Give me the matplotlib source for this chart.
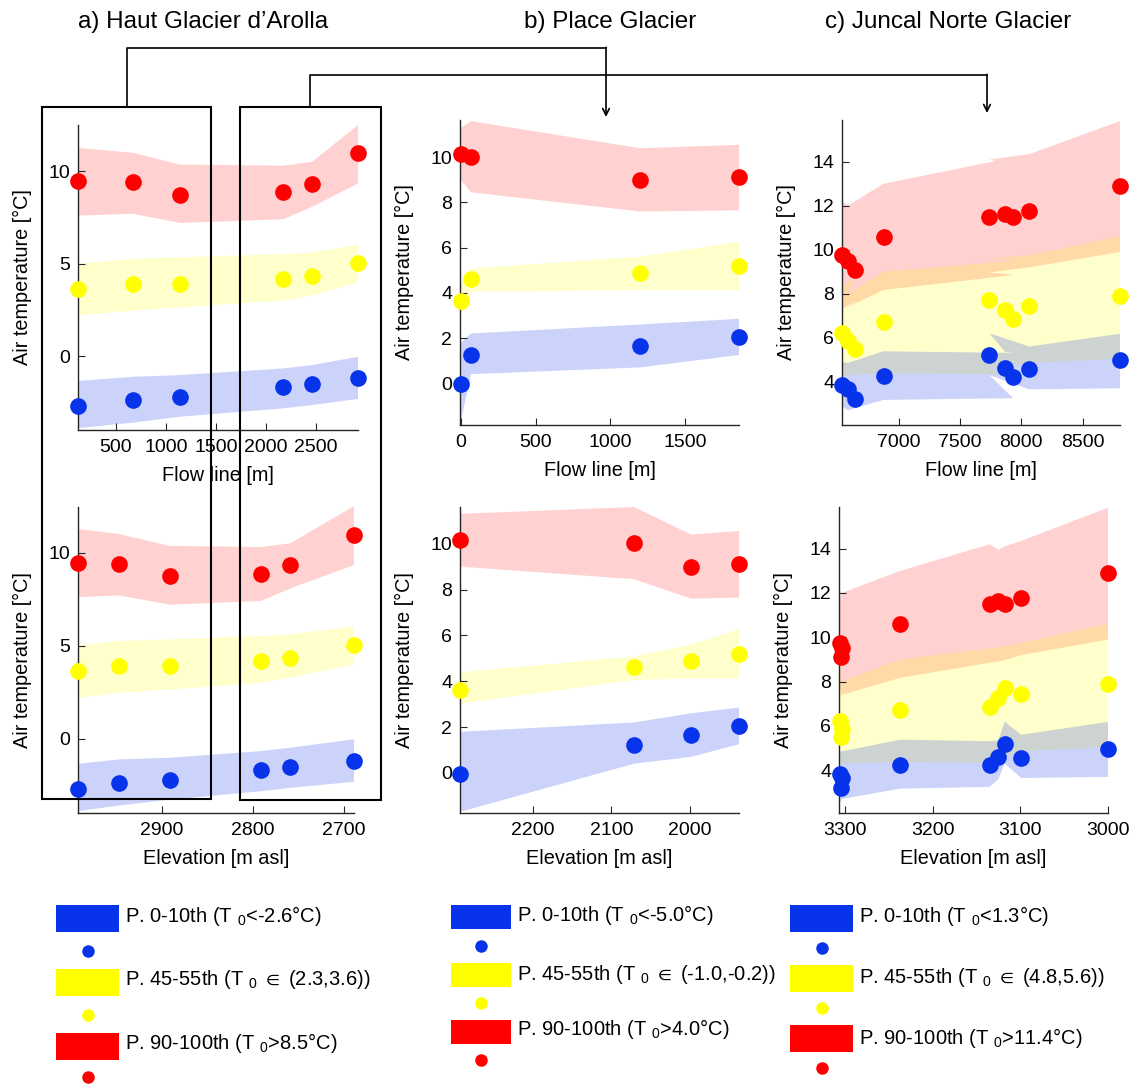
import matplotlib
matplotlib.use('Agg')
import matplotlib.pyplot as plt
from matplotlib.patches import Rectangle
import numpy as np

# ---------------- data ----------------
# a) Haut Glacier d'Arolla
a_flow = [120, 670, 1140, 2170, 2460, 2920]
a_elev = [2992, 2947, 2891, 2791, 2759, 2689]
a_red = [9.46, 9.40, 8.74, 8.86, 9.33, 10.96]
a_yel = [3.63, 3.88, 3.92, 4.17, 4.35, 5.02]
a_blu = [-2.69, -2.38, -2.20, -1.69, -1.53, -1.21]
a_red_hi = [11.26, 11.00, 10.36, 10.30, 10.50, 12.50]
a_red_lo = [7.60, 7.70, 7.20, 7.40, 8.07, 9.33]
a_yel_hi = [5.00, 5.25, 5.34, 5.52, 5.60, 6.03]
a_yel_lo = [2.19, 2.46, 2.64, 3.00, 3.27, 3.99]
a_blu_hi = [-1.35, -1.12, -1.03, -0.67, -0.49, -0.04]
a_blu_lo = [-3.90, -3.60, -3.28, -2.83, -2.65, -2.32]

# b) Place Glacier
b_flow = [0, 68, 1200, 1860]
b_elev = [2293, 2071, 1998, 1937]
b_red = [10.15, 10.02, 9.00, 9.12]
b_yel = [3.63, 4.60, 4.89, 5.18]
b_blu = [-0.05, 1.23, 1.65, 2.03]
b_red_hi = [11.30, 11.60, 10.40, 10.55]
b_red_lo = [9.00, 8.45, 7.60, 7.65]
b_yel_hi = [4.39, 5.08, 5.60, 6.27]
b_yel_lo = [3.03, 4.05, 4.12, 4.12]
b_blu_hi = [1.79, 2.20, 2.60, 2.85]
b_blu_lo = [-1.70, 0.40, 0.70, 1.25]

# c) Juncal Norte Glacier (stations ordered by elevation)
c_flow = [6540, 6648, 6586, 6878, 7935, 7868, 7740, 8065, 8803]
c_elev = [3306, 3305, 3304, 3237, 3135, 3125, 3118, 3099, 3000]
c_red = [9.75, 9.10, 9.50, 10.60, 11.50, 11.62, 11.50, 11.77, 12.92]
c_yel = [6.22, 5.50, 5.85, 6.70, 6.85, 7.25, 7.73, 7.42, 7.90]
c_blu = [3.85, 3.20, 3.65, 4.25, 4.23, 4.60, 5.20, 4.57, 4.97]
c_red_hi = [12.20, 11.80, 12.00, 13.00, 14.20, 13.95, 14.10, 14.35, 15.85]
c_red_lo = [7.30, 7.65, 7.40, 8.17, 8.85, 8.90, 8.97, 9.20, 9.90]
c_yel_hi = [8.30, 8.75, 8.00, 9.00, 9.50, 9.55, 9.60, 9.75, 10.62]
c_yel_lo = [4.25, 4.35, 4.30, 4.38, 4.33, 4.40, 4.60, 4.85, 5.05]
c_blu_hi = [4.90, 4.80, 4.85, 5.38, 5.31, 5.35, 6.20, 5.60, 6.18]
c_blu_lo = [2.87, 2.50, 2.70, 3.17, 3.25, 3.60, 4.30, 3.65, 3.70]

titles = ["a) Haut Glacier d\u2019Arolla", "b) Place Glacier", "c) Juncal Norte Glacier"]

legend_a = [r"P. 0-10th (T $_0$<-2.6°C)", r"P. 45-55th (T $_0$ $\in$ (2.3,3.6))",
            r"P. 90-100th (T $_0$>8.5°C)"]
legend_b = [r"P. 0-10th (T $_0$<-5.0°C)", r"P. 45-55th (T $_0$ $\in$ (-1.0,-0.2))",
            r"P. 90-100th (T $_0$>4.0°C)"]
legend_c = [r"P. 0-10th (T $_0$<1.3°C)", r"P. 45-55th (T $_0$ $\in$ (4.8,5.6))",
            r"P. 90-100th (T $_0$>11.4°C)"]

# ---------------- style ----------------
plt.rcParams['font.family'] = ['Liberation Sans', 'DejaVu Sans']
plt.rcParams['mathtext.fontset'] = 'custom'
plt.rcParams['mathtext.rm'] = 'Liberation Sans'
plt.rcParams['mathtext.it'] = 'Liberation Sans:italic'
plt.rcParams['mathtext.bf'] = 'Liberation Sans:bold'
plt.rcParams['mathtext.default'] = 'rm'
plt.rcParams['mathtext.fallback'] = 'stixsans'

W, H = 1132, 1084
RED, YEL, BLU = '#ff0000', '#ffff00', '#0733ea'
BAND_RED, BAND_YEL, BAND_BLU = (1, 0, 0), (1, 1, 0), (0.0, 0.15, 0.9)


def px_axes(fig, l, t, r, b):
    """Axes placed by pixel box (origin top-left)."""
    return fig.add_axes([l / W, 1 - b / H, (r - l) / W, (b - t) / H])


def draw_panel(ax, x, pts, bands, xlim, ylim, xticks, yticks, xlabel, box):
    x = np.asarray(x, float)
    colors = [(BAND_RED, 0.18), (BAND_YEL, 0.20), (BAND_BLU, 0.20)]
    for (hi, lo), (col, a) in zip(bands, colors):
        ax.fill(np.r_[x, x[::-1]], np.r_[hi, np.asarray(lo)[::-1]],
                color=col, alpha=a, lw=0, zorder=1)
    for vals, col in zip(pts, [RED, YEL, BLU]):
        ax.plot(x, vals, 'o', ms=12, color=col, mec='none',
                clip_on=False, zorder=3)
    ax.set_xlim(*xlim)
    ax.set_ylim(*ylim)
    ax.set_xticks(xticks)
    ax.set_yticks(yticks)
    for s in ['top', 'right']:
        ax.spines[s].set_visible(False)
    for s in ['left', 'bottom']:
        ax.spines[s].set_color('#262626')
        ax.spines[s].set_linewidth(1.0)
    ax.patch.set_alpha(0)
    ax.tick_params(direction='in', length=5, width=0.8, labelsize=14,
                   colors='#262626', labelcolor='black')
    ax.tick_params(axis='x', pad=6.5)
    ax.tick_params(axis='y', pad=5.5)
    l, t, r, b = box
    ax.set_xlabel(xlabel, fontsize=14.3)
    ax.set_ylabel('Air temperature [°C]', fontsize=14.3)
    ax.xaxis.set_label_coords(0.5, -36 / (b - t))
    ax.yaxis.set_label_coords(-46 / (r - l), 0.5)


def main():
    fig = plt.figure(figsize=(W / 100, H / 100), dpi=100)

    boxes = {
        'a_top': (78, 125, 358, 430), 'a_bot': (78, 507, 354, 813),
        'b_top': (460, 120, 739, 425), 'b_bot': (460, 507, 739, 813),
        'c_top': (842, 120, 1120, 425), 'c_bot': (839, 507, 1108, 813),
    }

    a_pts = [a_red, a_yel, a_blu]
    a_bands = [(a_red_hi, a_red_lo), (a_yel_hi, a_yel_lo), (a_blu_hi, a_blu_lo)]
    b_pts = [b_red, b_yel, b_blu]
    b_bands = [(b_red_hi, b_red_lo), (b_yel_hi, b_yel_lo), (b_blu_hi, b_blu_lo)]
    c_pts = [c_red, c_yel, c_blu]
    c_bands = [(c_red_hi, c_red_lo), (c_yel_hi, c_yel_lo), (c_blu_hi, c_blu_lo)]

    ax = px_axes(fig, *boxes['a_top'])
    draw_panel(ax, a_flow, a_pts, a_bands, (120, 2920), (-4, 12.5),
               [500, 1000, 1500, 2000, 2500], [0, 5, 10], 'Flow line [m]', boxes['a_top'])
    ax = px_axes(fig, *boxes['a_bot'])
    draw_panel(ax, a_elev, a_pts, a_bands, (2992, 2689), (-4, 12.45),
               [2900, 2800, 2700], [0, 5, 10], 'Elevation [m asl]', boxes['a_bot'])

    ax = px_axes(fig, *boxes['b_top'])
    draw_panel(ax, b_flow, b_pts, b_bands, (-5, 1860), (-1.85, 11.65),
               [0, 500, 1000, 1500], [0, 2, 4, 6, 8, 10], 'Flow line [m]', boxes['b_top'])
    ax = px_axes(fig, *boxes['b_bot'])
    draw_panel(ax, b_elev, b_pts, b_bands, (2293, 1937), (-1.75, 11.6),
               [2200, 2100, 2000], [0, 2, 4, 6, 8, 10], 'Elevation [m asl]', boxes['b_bot'])

    ax = px_axes(fig, *boxes['c_top'])
    draw_panel(ax, c_flow, c_pts, c_bands, (6540, 8803), (2.03, 15.9),
               [7000, 7500, 8000, 8500], [4, 6, 8, 10, 12, 14], 'Flow line [m]', boxes['c_top'])
    ax = px_axes(fig, *boxes['c_bot'])
    draw_panel(ax, c_elev, c_pts, c_bands, (3307, 3000), (2.07, 15.88),
               [3300, 3200, 3100, 3000], [4, 6, 8, 10, 12, 14], 'Elevation [m asl]', boxes['c_bot'])

    # overlay in pixel coordinates: titles, boxes, connectors, legends
    ov = fig.add_axes([0, 0, 1, 1], zorder=10)
    ov.set_xlim(0, W)
    ov.set_ylim(H, 0)
    ov.axis('off')
    ov.patch.set_alpha(0)

    for tx, title in zip([203, 610, 948], titles):
        ov.text(tx, 22, title, fontsize=17.5, ha='center', va='center')

    ov.add_patch(Rectangle((42, 107), 169, 692, fill=False, lw=1.5, ec='k'))
    ov.add_patch(Rectangle((240, 107), 141, 693, fill=False, lw=1.5, ec='k'))

    ov.plot([127, 127, 606], [107, 48, 48], color='k', lw=1.2)
    ov.annotate('', xy=(606, 117), xytext=(606, 47.4),
                arrowprops=dict(arrowstyle='->', lw=1.2, color='k',
                                shrinkA=0, shrinkB=0, mutation_scale=12))
    ov.plot([310, 310, 987], [107, 75, 75], color='k', lw=1.2)
    ov.annotate('', xy=(987, 113), xytext=(987, 74.4),
                arrowprops=dict(arrowstyle='->', lw=1.2, color='k',
                                shrinkA=0, shrinkB=0, mutation_scale=12))

    legends = [
        (legend_a, 56, 63, [905, 969, 1033], 27, [951, 1015, 1077], [922, 985, 1049]),
        (legend_b, 451, 60, [905, 963, 1020], 24, [946, 1003, 1060], [921, 980, 1035]),
        (legend_c, 790, 63, [905, 965, 1025], 27, [948, 1008, 1068], [922, 983, 1044]),
    ]
    for labels, x0, w, tops, h, dots, bases in legends:
        for lab, col, top, dy, base in zip(labels, [BLU, YEL, RED], tops, dots, bases):
            ov.add_patch(Rectangle((x0, top), w, h, color=col, lw=0))
            ov.plot([x0 + w / 2], [dy], 'o', ms=9, color=col, mec='none')
            ov.text(x0 + w + 6, base, lab, fontsize=14.5, ha='left', va='baseline')

    fig.savefig('out.png', dpi=100)


if __name__ == '__main__':
    main()
